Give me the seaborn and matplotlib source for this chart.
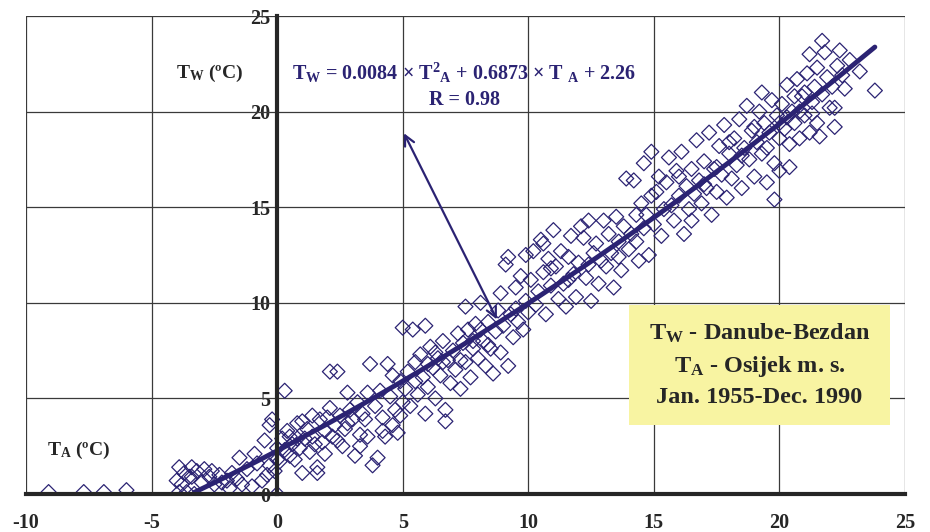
import numpy as np
import pandas as pd
import matplotlib
matplotlib.use("Agg")
import matplotlib.pyplot as plt
import matplotlib.patches as mpatches
import seaborn as sns

# monthly means, (T_A air at Osijek, T_W water Danube-Bezdan)
cold = [(-9.1, 0.1), (-7.7, 0.1), (-6.9, 0.1), (-6.0, 0.2), (-4.0, 0.7), (-3.9, 1.4), (-3.9, 0.1),
        (-3.8, 0.5), (-3.7, 1.1), (-3.6, 0.1), (-3.5, 0.9), (-3.4, 1.4), (-3.4, 0.9), (-3.3, 0.0),
        (-3.2, 1.2), (-3.0, 0.6), (-2.9, 1.3), (-2.7, 0.9), (-2.6, 1.2), (-2.5, 0.5), (-2.3, 1.0),
        (-2.2, 0.6), (-2.0, 0.7), (-1.9, 0.3), (-1.8, 1.1), (-1.6, 0.8), (-1.5, 1.9), (-1.4, 0.5),
        (-1.2, 1.3), (-1.0, 0.4), (-0.9, 2.1), (-0.8, 1.6), (-0.6, 0.7), (-0.5, 2.8), (-0.4, 1.0),
        (-0.3, 3.6), (-0.3, 1.5), (-0.2, 3.9), (-0.1, 1.2), (0.0, 0.0), (0.0, 2.4), (0.0, 1.8)]
mild = [(0.1, 1.7), (0.2, 2.9), (0.3, 5.4), (0.3, 2.3), (0.4, 3.3), (0.5, 2.0), (0.5, 3.0), (0.6, 2.6),
        (0.7, 1.8), (0.8, 3.7), (0.9, 2.4), (1.0, 3.8), (1.0, 1.1), (1.1, 2.9), (1.2, 3.4), (1.3, 2.2),
        (1.4, 3.0), (1.5, 2.6), (1.6, 1.1), (1.6, 1.4), (1.7, 3.9), (1.8, 2.7), (1.9, 3.3), (2.0, 4.0),
        (2.1, 6.4), (2.1, 4.5), (2.2, 3.0), (2.3, 3.6), (2.4, 6.4), (2.5, 4.1), (2.6, 2.5), (2.7, 3.4),
        (2.8, 5.3), (2.9, 4.4), (3.0, 3.9), (3.1, 2.0), (3.2, 4.8), (3.3, 3.1), (3.4, 4.2), (3.5, 3.9),
        (3.6, 5.3), (3.7, 6.8), (3.8, 1.5), (3.9, 4.6), (4.0, 1.9), (4.1, 5.4), (4.2, 4.0), (4.3, 3.0),
        (4.4, 6.8), (4.5, 5.1), (4.6, 3.6), (4.7, 4.4), (4.8, 3.2), (4.9, 5.9), (5.0, 4.8), (1.9, 2.1),
        (2.8, 3.7), (3.3, 2.5), (4.2, 3.3), (4.6, 6.2), (0.8, 2.9), (1.4, 4.1), (2.4, 2.8), (3.6, 3.0),
        (4.9, 4.1)]
warm = [(5.0, 8.7), (5.1, 5.5), (5.2, 6.4), (5.3, 4.6), (5.4, 8.6), (5.5, 6.9), (5.6, 5.2), (5.7, 7.3),
        (5.8, 6.1), (5.9, 8.8), (5.9, 4.2), (6.0, 5.6), (6.1, 7.7), (6.2, 6.6), (6.3, 5.0), (6.4, 7.1),
        (6.5, 6.2), (6.6, 8.0), (6.7, 4.4), (6.7, 3.8), (6.8, 7.0), (6.9, 5.8), (7.0, 7.5), (7.1, 6.5),
        (7.2, 8.4), (7.3, 5.5), (7.4, 7.9), (7.5, 9.8), (7.5, 6.9), (7.6, 8.6), (7.7, 6.1), (7.8, 7.6),
        (7.9, 8.9), (8.0, 7.1), (8.1, 10.0), (8.2, 8.0), (8.3, 6.7), (8.4, 9.0), (8.5, 7.6), (8.6, 6.3),
        (8.7, 8.5), (8.8, 9.6), (8.9, 10.5), (8.9, 7.4), (9.0, 8.8), (9.1, 12.0), (9.2, 6.7), (9.2, 12.4),
        (9.3, 9.4), (9.4, 8.2), (9.5, 10.8), (9.6, 9.0), (9.7, 11.4), (9.8, 8.6), (9.9, 12.5), (9.9, 10.1),
        (6.0, 6.8), (6.6, 6.9), (7.3, 7.0), (8.1, 8.6), (5.5, 5.9), (6.3, 7.4), (7.8, 8.0), (8.4, 7.8),
        (9.5, 9.7)]
hot = [(10.0, 9.5), (10.1, 11.2), (10.2, 12.7), (10.3, 9.9), (10.4, 10.6), (10.5, 13.3), (10.6, 13.1),
       (10.6, 11.6), (10.7, 9.4), (10.8, 12.3), (10.9, 10.9), (11.0, 13.8), (11.1, 11.9), (11.2, 10.2),
       (11.3, 12.7), (11.4, 11.0), (11.5, 9.8), (11.6, 12.4), (11.7, 13.5), (11.8, 11.5), (11.9, 10.3),
       (12.0, 12.1), (12.1, 14.0), (12.2, 13.4), (12.3, 11.3), (12.4, 14.3), (12.5, 10.1), (12.6, 12.6),
       (12.7, 13.1), (12.8, 11.0), (12.9, 12.2), (13.0, 14.3), (13.1, 11.9), (13.2, 13.6), (13.3, 12.6),
       (13.4, 10.8), (13.5, 14.5), (13.6, 13.2), (13.7, 11.7), (13.8, 14.0), (13.9, 16.5), (14.0, 12.8),
       (14.1, 13.6), (14.2, 16.4), (14.3, 14.6), (14.4, 12.2), (14.5, 15.2), (14.6, 17.3), (14.6, 13.9),
       (14.7, 14.6), (14.8, 12.5), (14.9, 17.9), (14.9, 15.6), (15.0, 14.1), (10.9, 11.8), (11.6, 11.2),
       (12.4, 12.0), (13.6, 12.4), (14.3, 13.2)]
summer = [(15.1, 15.8), (15.2, 16.6), (15.3, 13.5), (15.4, 14.9), (15.5, 16.3), (15.6, 17.6), (15.7, 15.1),
          (15.8, 14.3), (15.9, 16.9), (16.0, 15.6), (16.1, 17.9), (16.2, 13.6), (16.3, 16.1), (16.4, 14.9),
          (16.5, 14.3), (16.5, 17.0), (16.6, 15.7), (16.7, 18.5), (16.8, 16.4), (16.9, 15.2), (17.0, 17.4),
          (17.1, 16.0), (17.2, 18.9), (17.3, 14.6), (17.4, 17.0), (17.5, 15.8), (17.6, 18.2), (17.7, 16.7),
          (17.8, 19.3), (17.9, 15.5), (18.0, 17.8), (18.1, 16.5), (18.2, 18.6), (18.3, 17.2), (18.4, 19.6),
          (18.5, 16.0), (18.6, 18.1), (18.7, 20.3), (18.8, 17.5), (18.9, 19.0), (19.0, 16.6), (19.1, 18.4),
          (19.2, 20.0), (19.3, 21.0), (19.3, 17.8), (19.4, 19.4), (19.5, 16.3), (19.6, 18.9), (19.7, 20.6),
          (19.8, 15.4), (19.8, 17.3), (19.9, 19.8), (20.0, 16.9), (20.0, 18.6), (17.0, 16.2), (18.0, 18.4),
          (18.5, 17.7), (19.0, 19.2), (19.5, 18.1), (16.0, 16.6), (17.5, 17.1)]
peak = [(20.1, 20.4), (20.2, 19.1), (20.3, 21.4), (20.4, 17.1), (20.4, 18.3), (20.5, 20.0), (20.6, 19.4),
        (20.7, 21.7), (20.8, 18.6), (20.9, 20.8), (21.0, 19.8), (21.1, 22.0), (21.2, 23.0), (21.2, 18.9),
        (21.3, 20.5), (21.4, 21.3), (21.5, 22.3), (21.5, 19.4), (21.6, 18.7), (21.7, 23.7), (21.7, 20.9),
        (21.8, 23.1), (21.9, 21.8), (22.0, 20.2), (22.1, 21.3), (22.2, 19.2), (22.2, 20.2), (22.3, 22.4),
        (22.4, 23.2), (22.5, 21.9), (22.6, 21.2), (22.8, 22.7), (23.2, 22.1), (23.8, 21.1), (20.3, 19.7),
        (20.8, 20.0), (21.0, 21.0), (21.3, 19.9), (20.6, 20.8), (20.0, 19.4)]

# regression printed on the chart
coef = [0.0084, 0.6873, 2.26]
fit_range = [-3.3, 23.8]

x_ticks = [-10, -5, 0, 5, 10, 15, 20, 25]
y_ticks = [0, 5, 10, 15, 20, 25]

navy = "#2B2373"

sns.set_style("white")
plt.rcParams["font.family"] = ["Liberation Serif", "DejaVu Serif"]
plt.rcParams["font.weight"] = "bold"
plt.rcParams["axes.unicode_minus"] = False
plt.rcParams["mathtext.fontset"] = "custom"
plt.rcParams["mathtext.rm"] = "Liberation Serif:bold"
plt.rcParams["mathtext.bf"] = "Liberation Serif:bold"
plt.rcParams["mathtext.it"] = "Liberation Serif:bold"

df = pd.DataFrame(cold + mild + warm + hot + summer + peak, columns=["TA", "TW"])
xs = np.linspace(fit_range[0], fit_range[1], 200)
fit = pd.DataFrame({"TA": xs, "TW": np.polyval(coef, xs)})

fig = plt.figure(figsize=(9.3, 5.32), dpi=100)
ax = fig.add_axes([26 / 930, 38 / 532, 879 / 930, 478 / 532])

sns.scatterplot(data=df, x="TA", y="TW", ax=ax, marker="D", s=58,
                facecolor="none", edgecolor=navy, linewidth=0.9, zorder=3)
sns.lineplot(data=fit, x="TA", y="TW", ax=ax, color=navy, lw=3.5, zorder=4)

ax.set_xlim(-10, 25)
ax.set_ylim(0, 25)
ax.set_xticks(x_ticks)
ax.set_yticks(y_ticks)
ax.set_xlabel("")
ax.set_ylabel("")

# thin frame + grid
for v in x_ticks:
    ax.axvline(v, color="#3a3a3a", lw=0.9, zorder=1)
for v in y_ticks:
    ax.axhline(v, color="#3a3a3a", lw=0.9, zorder=1)

for s in ["top", "right"]:
    ax.spines[s].set_visible(False)
ax.spines["left"].set_position(("data", 0))
ax.spines["left"].set_linewidth(3)
ax.spines["bottom"].set_linewidth(3)
ax.spines["left"].set_zorder(5)
ax.spines["bottom"].set_zorder(5)
ax.tick_params(axis="both", length=4, width=3, color="black", labelsize=14.5, direction="out")
ax.tick_params(axis="x", pad=10)
ax.tick_params(axis="y", pad=1)
for lab in ax.get_xticklabels() + ax.get_yticklabels():
    lab.set_fontweight("bold")

ax.text(-2.7, 22.0, r"T$_{\mathbf{W}}$ (ºC)", fontsize=14, ha="center", va="center")
ax.text(-7.9, 2.3, r"T$_{\mathbf{A}}$ (ºC)", fontsize=14, ha="center", va="center")

ax.text(7.45, 22.0,
        r"T$_{\mathbf{W}}$ = 0.0084 × T$^{\mathbf{2}}$$_{\mathbf{A}}$ + 0.6873 × T $_{\mathbf{A}}$ + 2.26",
        fontsize=14.5, ha="center", va="center", color=navy)
ax.text(7.45, 20.6, "R = 0.98", fontsize=14.5, ha="center", va="center", color=navy)
ax.annotate("", xy=(8.8, 9.0), xytext=(5.0, 19.0),
            arrowprops=dict(arrowstyle="<->", color=navy, lw=1.6, mutation_scale=18), zorder=6)

ax.add_patch(mpatches.Rectangle((14.0, 3.6), 10.4, 6.3, facecolor="#F8F4A2",
                                edgecolor="none", zorder=7))
ax.text(19.2, 6.75, "T$_{\\mathbf{W}}$ - Danube-Bezdan\nT$_{\\mathbf{A}}$ - Osijek m. s.\nJan. 1955-Dec. 1990",
        fontsize=17.5, ha="center", va="center", linespacing=1.5, zorder=8)

fig.savefig("out.png", dpi=100)
